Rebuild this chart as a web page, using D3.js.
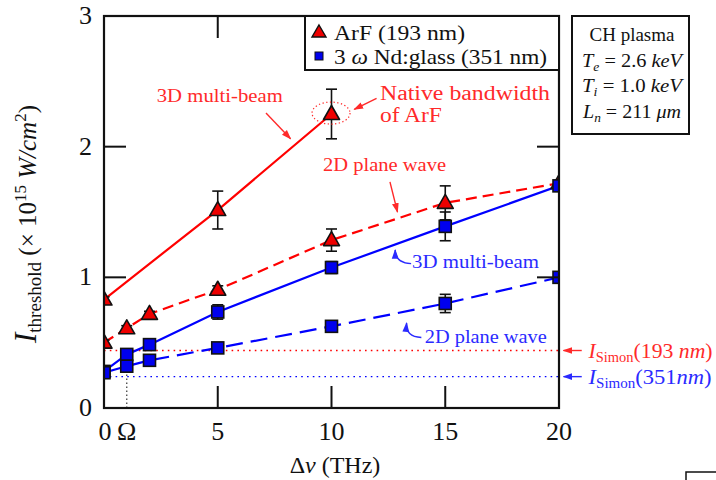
<!DOCTYPE html>
<html><head><meta charset="utf-8">
<script src="https://cdn.jsdelivr.net/npm/d3@7"></script>
<style>body{margin:0;background:#fff}svg{display:block}</style>
</head><body><svg id="c" width="716" height="480" font-family="'Liberation Serif', 'Times New Roman', 'DejaVu Serif', serif"></svg>
<script>
// ---- data ----
const xs = [0, 1, 2, 5, 10, 15, 20];
const arf3D_x = [0, 5, 10];
const arf3D_y = [0.83, 1.515, 2.25];
const arf3D_err = [0.02, 0.145, 0.19];
const arf2D_y = [0.50, 0.61, 0.72, 0.905, 1.285, 1.57, 1.72];
const arf2D_err = [0.02, 0.02, 0.02, 0.03, 0.085, 0.13, 0.02];
const nd3D_y = [0.28, 0.41, 0.485, 0.735, 1.075, 1.39, 1.70];
const nd3D_err = [0.02, 0.02, 0.02, 0.055, 0.045, 0.11, 0.02];
const nd2D_y = [0.27, 0.32, 0.365, 0.46, 0.625, 0.80, 1.00];
const nd2D_err = [0.02, 0.02, 0.02, 0.02, 0.02, 0.07, 0.02];
const simonArF = 0.44, simonNd = 0.24;
const xTickVals = [0, 1, 5, 10, 15, 20];
const xTickLabels = ["0", "Ω", "5", "10", "15", "20"];
const yTickVals = [0, 1, 2, 3];
const innerTicksX = [5, 10, 15];
const innerTicksY = [1, 2];

const RED = "#ff0000", BLUE = "#0000ff", TRED = "#ff2a2a", TBLUE = "#2a2aff";
const svg = d3.select("#c");
const L = 104, R = 559, T = 16, B = 408;
const x = d3.scaleLinear().domain([0, 20]).range([L, R]);
const y = d3.scaleLinear().domain([0, 3]).range([B, T]);

const defs = svg.append("defs");
defs.append("clipPath").attr("id", "clip").append("rect")
  .attr("x", L).attr("y", T).attr("width", R - L).attr("height", B - T);
function arrowMarker(id, col) {
  defs.append("marker").attr("id", id).attr("viewBox", "0 0 10 10").attr("refX", 9).attr("refY", 5)
    .attr("markerWidth", 7).attr("markerHeight", 7).attr("orient", "auto-start-reverse")
    .append("path").attr("d", "M0,1.5 L10,5 L0,8.5 Z").attr("fill", col);
}
arrowMarker("ar", TRED); arrowMarker("ab", TBLUE);
function fit(sel, len) { return sel.attr("textLength", len).attr("lengthAdjust", "spacingAndGlyphs"); }

// reference lines
const plot = svg.append("g").attr("clip-path", "url(#clip)");
plot.append("line").attr("x1", x(0)).attr("x2", x(20)).attr("y1", y(simonArF)).attr("y2", y(simonArF))
  .attr("stroke", RED).attr("stroke-width", 1.6).attr("stroke-dasharray", "1.6,4.2");
plot.append("line").attr("x1", x(0)).attr("x2", x(20)).attr("y1", y(simonNd)).attr("y2", y(simonNd))
  .attr("stroke", BLUE).attr("stroke-width", 1.4).attr("stroke-dasharray", "1.6,4.2");
plot.append("line").attr("x1", x(1)).attr("x2", x(1)).attr("y1", y(0)).attr("y2", y(nd2D_y[1]))
  .attr("stroke", "#444").attr("stroke-width", 1.3).attr("stroke-dasharray", "1.4,2.6");

const line = d3.line().x(d => x(d[0])).y(d => y(d[1]));
const series = [
  {xv: arf3D_x, yv: arf3D_y, ev: arf3D_err, col: RED, dash: null, shape: "tri"},
  {xv: xs, yv: arf2D_y, ev: arf2D_err, col: RED, dash: "11,6", shape: "tri"},
  {xv: xs, yv: nd3D_y, ev: nd3D_err, col: BLUE, dash: null, shape: "sq"},
  {xv: xs, yv: nd2D_y, ev: nd2D_err, col: BLUE, dash: "17,8", shape: "sq"},
];
series.forEach(s => {
  plot.append("path").datum(s.xv.map((v, i) => [v, s.yv[i]])).attr("d", line)
    .attr("fill", "none").attr("stroke", s.col).attr("stroke-width", 2.2)
    .attr("stroke-dasharray", s.dash);
});
series.forEach(s => {
  const g = plot.append("g");
  s.xv.forEach((v, i) => {
    const cx = x(v), t = y(s.yv[i] + s.ev[i]), b = y(s.yv[i] - s.ev[i]);
    g.append("line").attr("x1", cx).attr("x2", cx).attr("y1", t).attr("y2", b).attr("stroke", "#111").attr("stroke-width", 1.6);
    [t, b].forEach(yy => g.append("line").attr("x1", cx - 5.5).attr("x2", cx + 5.5).attr("y1", yy).attr("y2", yy).attr("stroke", "#111").attr("stroke-width", 1.6));
  });
});
series.forEach(s => {
  const g = plot.append("g");
  s.xv.forEach((v, i) => {
    const cx = x(v), cy = y(s.yv[i]);
    if (s.shape === "tri") {
      g.append("path").attr("d", `M${cx},${cy - 8.5} L${cx + 8},${cy + 5.5} L${cx - 8},${cy + 5.5} Z`)
        .attr("fill", "#ee0000").attr("stroke", "#111").attr("stroke-width", 1.6).attr("stroke-linejoin", "round");
    } else {
      g.append("rect").attr("x", cx - 6).attr("y", cy - 6).attr("width", 12).attr("height", 12)
        .attr("fill", "#0000ee").attr("stroke", "#111").attr("stroke-width", 1.6);
    }
  });
});

// axes frame and inward ticks
svg.append("rect").attr("x", L).attr("y", T).attr("width", R - L).attr("height", B - T)
  .attr("fill", "none").attr("stroke", "#111").attr("stroke-width", 2.2);
innerTicksX.forEach(v => {
  svg.append("line").attr("x1", x(v)).attr("x2", x(v)).attr("y1", B).attr("y2", B - 22).attr("stroke", "#111").attr("stroke-width", 2);
  svg.append("line").attr("x1", x(v)).attr("x2", x(v)).attr("y1", T).attr("y2", T + 22).attr("stroke", "#111").attr("stroke-width", 2);
});
innerTicksY.forEach(v => {
  svg.append("line").attr("x1", L).attr("x2", L + 22).attr("y1", y(v)).attr("y2", y(v)).attr("stroke", "#111").attr("stroke-width", 2);
  svg.append("line").attr("x1", R).attr("x2", R - 22).attr("y1", y(v)).attr("y2", y(v)).attr("stroke", "#111").attr("stroke-width", 2);
});
xTickVals.forEach((v, i) => {
  svg.append("text").attr("x", x(v) + (i === 0 ? 1 : 0)).attr("y", 440).attr("text-anchor", "middle")
    .attr("font-size", 26).attr("fill", "#111").text(xTickLabels[i]);
});
yTickVals.forEach(v => {
  svg.append("text").attr("x", 92).attr("y", y(v) + 8).attr("text-anchor", "end")
    .attr("font-size", 26).attr("fill", "#111").text(String(v));
});

// axis labels
const xl = svg.append("text").attr("x", 335).attr("y", 473).attr("text-anchor", "middle").attr("font-size", 24).attr("fill", "#111");
xl.append("tspan").text("Δ");
xl.append("tspan").attr("font-style", "italic").text("ν");
xl.append("tspan").text(" (THz)");

const yl = svg.append("text").attr("transform", "translate(36,224) rotate(-90)").attr("text-anchor", "middle")
  .attr("font-size", 25).attr("fill", "#111");
yl.append("tspan").attr("font-style", "italic").attr("font-size", 31).text("I");
yl.append("tspan").attr("font-size", 19).attr("dy", 5).text("threshold");
yl.append("tspan").attr("dy", -5).text(" (× 10");
yl.append("tspan").attr("font-size", 17).attr("dy", -10).text("15");
yl.append("tspan").attr("dy", 10).attr("font-style", "italic").text(" W/cm");
yl.append("tspan").attr("font-size", 17).attr("dy", -10).text("2");
yl.append("tspan").attr("dy", 10).text(")");

// legend
svg.append("rect").attr("x", 305).attr("y", T).attr("width", R - 305).attr("height", 54)
  .attr("fill", "#fff").attr("stroke", "#111").attr("stroke-width", 2);
svg.append("path").attr("d", "M319,25 L326,37 L312,37 Z").attr("fill", "#ee0000").attr("stroke", "#111").attr("stroke-width", 1.4);
fit(svg.append("text").attr("x", 334).attr("y", 40).attr("font-size", 22).attr("fill", "#111").text("ArF (193 nm)"), 131);
svg.append("rect").attr("x", 315).attr("y", 52).attr("width", 8).attr("height", 8).attr("fill", "#0000ee").attr("stroke", "#111").attr("stroke-width", 1);
const lg2 = svg.append("text").attr("x", 334).attr("y", 64).attr("font-size", 22).attr("fill", "#111");
lg2.append("tspan").text("3");
lg2.append("tspan").attr("font-style", "italic").text(" ω");
lg2.append("tspan").text(" Nd:glass (351 nm)");
fit(lg2, 213);

// info box
svg.append("rect").attr("x", 572).attr("y", 16).attr("width", 117).attr("height", 118)
  .attr("fill", "#fff").attr("stroke", "#111").attr("stroke-width", 2);
const info = [["CH plasma"], ["T", "e", " = 2.6 ", "keV"], ["T", "i", " = 1.0 ", "keV"], ["L", "n", " = 211 ", "μm"]];
const infoLen = [85, 100, 100, 98];
info.forEach((parts, i) => {
  const t = svg.append("text").attr("x", 632 - infoLen[i] / 2).attr("y", 41 + i * 25.5).attr("font-size", 18).attr("fill", "#111");
  if (parts.length === 1) { t.text(parts[0]); fit(t, infoLen[i]); return; }
  t.append("tspan").attr("font-style", "italic").text(parts[0]);
  t.append("tspan").attr("font-style", "italic").attr("font-size", 12).attr("dy", 4).text(parts[1]);
  t.append("tspan").attr("dy", -4).text(parts[2]);
  t.append("tspan").attr("font-style", "italic").text(parts[3]);
  fit(t, infoLen[i]);
});

// annotations (data coordinates)
function txt(xd, yd, str, col, fs, len) {
  return fit(svg.append("text").attr("x", x(xd)).attr("y", y(yd))
    .attr("font-size", fs).attr("fill", col).text(str), len);
}
function arrow(x1, y1, x2, y2, col, id) {
  svg.append("line").attr("x1", x(x1)).attr("y1", y(y1)).attr("x2", x(x2)).attr("y2", y(y2))
    .attr("stroke", col).attr("stroke-width", 1.4).attr("marker-end", `url(#${id})`);
}
function carrow(x1, y1, cx, cy, x2, y2, col, id) {
  svg.append("path").attr("d", `M${x(x1)},${y(y1)} Q${x(cx)},${y(cy)} ${x(x2)},${y(y2)}`)
    .attr("fill", "none").attr("stroke", col).attr("stroke-width", 1.4).attr("marker-end", `url(#${id})`);
}
txt(2.32, 2.345, "3D multi-beam", TRED, 19, 126);
arrow(7.12, 2.257, 8.2, 2.06, TRED, "ar");
svg.append("ellipse").attr("cx", x(9.98)).attr("cy", y(2.257)).attr("rx", 19).attr("ry", 11)
  .attr("fill", "none").attr("stroke", TRED).attr("stroke-width", 1.2).attr("stroke-dasharray", "1.3,2.4");
txt(12.13, 2.36, "Native bandwidth", TRED, 20, 170);
txt(12.13, 2.185, "of ArF", TRED, 20, 62);
arrow(11.98, 2.37, 11.0, 2.285, TRED, "ar");
txt(9.63, 1.81, "2D plane wave", TRED, 19, 123);
arrow(12.57, 1.73, 12.9, 1.5, TRED, "ar");
txt(13.54, 1.07, "3D multi-beam", TBLUE, 19, 127);
carrow(13.5, 1.105, 12.8, 1.11, 12.8, 1.21, TBLUE, "ab");
txt(14.1, 0.495, "2D plane wave", TBLUE, 19, 122);
carrow(13.95, 0.54, 13.25, 0.545, 13.3, 0.65, TBLUE, "ab");

// right side Simon labels
arrow(21.0, simonArF, 20.2, simonArF, TRED, "ar");
arrow(21.0, simonNd, 20.2, simonNd, TBLUE, "ab");
function simon(yd, col, inner, len) {
  const t = svg.append("text").attr("x", x(21.3)).attr("y", y(yd) + 7).attr("font-size", 21).attr("fill", col);
  t.append("tspan").attr("font-style", "italic").text("I");
  t.append("tspan").attr("font-size", 14).attr("dy", 4).text("Simon");
  t.append("tspan").attr("dy", -4).text("(" + inner[0]);
  t.append("tspan").attr("font-style", "italic").text(inner[1]);
  t.append("tspan").text(")");
  fit(t, len);
}
simon(simonArF, TRED, ["193 ", "nm"], 124);
simon(simonNd, TBLUE, ["351", "nm"], 123);

// partial box corner at bottom right
svg.append("path").attr("d", "M686,481 L686,472 L717,472").attr("fill", "none").attr("stroke", "#111").attr("stroke-width", 1.5);
</script></body></html>
